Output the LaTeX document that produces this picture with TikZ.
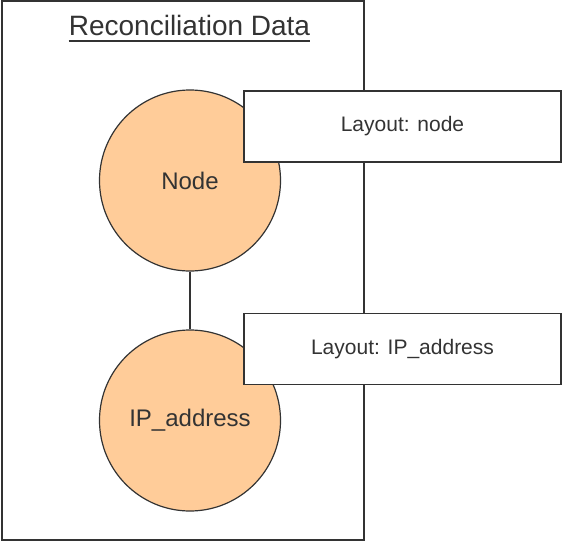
\documentclass[tikz,border=0pt]{standalone}
\usepackage{fontspec}
\setmainfont{Liberation Sans}
\definecolor{peach}{HTML}{FFCC99}
\definecolor{ink}{HTML}{333333}
\begin{document}
\begin{tikzpicture}[x=1pt,y=-1pt,
  ent/.style={circle,draw=ink,line width=1.2pt,fill=peach,minimum size=181pt,inner sep=0pt,text=ink,font=\fontsize{24}{28}\selectfont},
  lay/.style={draw=ink,line width=1.6pt,fill=white,minimum width=317pt,minimum height=71pt,inner sep=0pt,text=ink,font=\fontsize{21}{25}\selectfont},
  conn/.style={draw=ink,line width=1.5pt}]
\useasboundingbox (0,0) rectangle (563,541);
\node[draw=ink,line width=1.6pt,minimum width=362pt,minimum height=539pt,inner sep=0pt] (frame) at (183,270.5) {};
\node[anchor=base,text=ink,font=\fontsize{28}{32}\selectfont,inner sep=0pt] (title) at (189.5,35.7) {Reconciliation Data};
\draw[ink,line width=2pt] ([yshift=-5pt]title.base west) -- ([yshift=-5pt]title.base east);
\node[ent] (n1) at (190,180.5) {Node};
\node[ent] (n2) at (190,420.5) {IP\_address};
\draw[conn] (n1) -- (n2);
\node[lay] (l1) at (402.5,126.5) {Layout: node};
\node[lay] (l2) at (402.5,349) {Layout: IP\_address};
\end{tikzpicture}
\end{document}
